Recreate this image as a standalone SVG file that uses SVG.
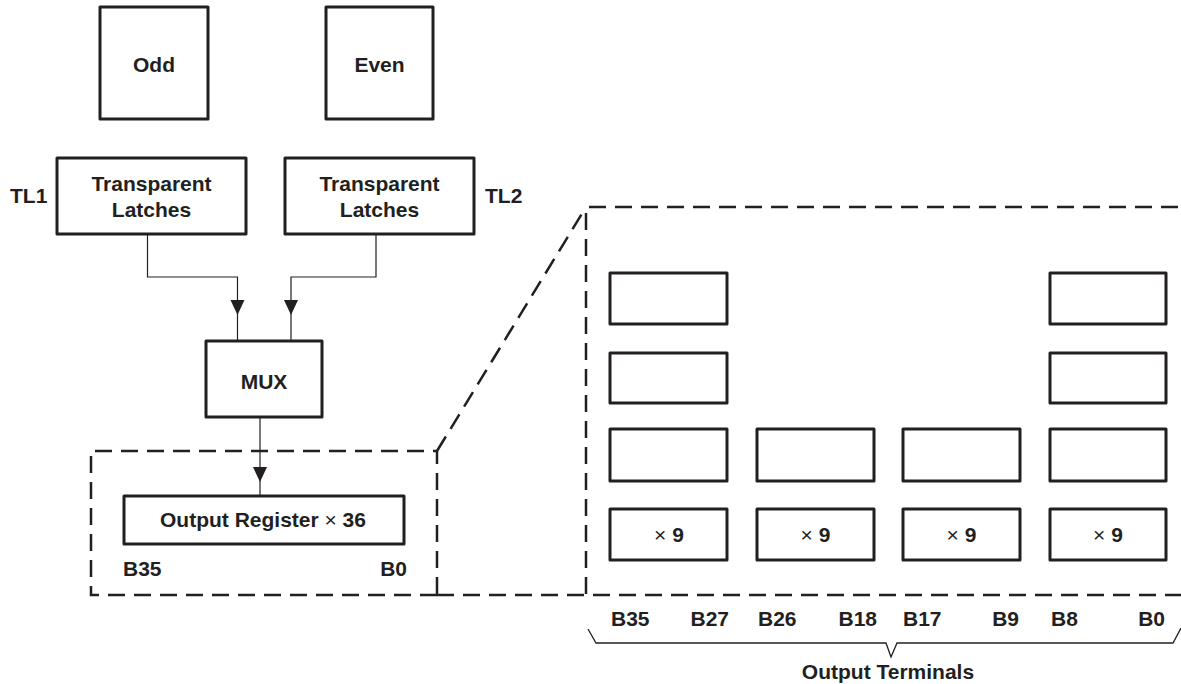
<svg xmlns="http://www.w3.org/2000/svg" width="1181" height="684" viewBox="0 0 1181 684">
  <style>
    text { font-family: "Liberation Sans", Arial, sans-serif; font-weight: bold; font-size: 21px; fill: #231f20; }
    .c { text-anchor: middle; }
    .e { text-anchor: end; }
    .x { font-weight: normal; }
    .box { fill: #fff; stroke: #231f20; stroke-width: 3; stroke-linejoin: round; }
    .wire { fill: none; stroke: #231f20; stroke-width: 1.2; }
    .dash { fill: none; stroke: #231f20; stroke-width: 2.5; stroke-dasharray: 17 9; }
    .brace { fill: none; stroke: #231f20; stroke-width: 1.3; }
    .head { fill: #231f20; }
  </style>

  <!-- dashed zoom outline: register detail on the left, expanded bit slices on the right -->
  <g id="zoom-outline">
    <path class="dash" d="M437,595 L91,595 L91,451 L437,451 L437,595"/>
    <path class="dash" d="M437,451 L586,207"/>
    <path class="dash" d="M586,594 L586,207 L1181,207"/>
    <path class="dash" d="M437,595 L1181,595"/>
  </g>

  <g id="odd">
    <rect class="box" x="100" y="7" width="108" height="112"/>
    <text class="c" x="154" y="72">Odd</text>
  </g>
  <g id="even">
    <rect class="box" x="326" y="7" width="107" height="112"/>
    <text class="c" x="379.5" y="72">Even</text>
  </g>

  <g id="tl1">
    <rect class="box" x="57" y="158" width="189" height="76"/>
    <text class="c" x="151.5" y="191">Transparent</text>
    <text class="c" x="151.5" y="217">Latches</text>
    <text x="10" y="203">TL1</text>
  </g>
  <g id="tl2">
    <rect class="box" x="285" y="158" width="189" height="76"/>
    <text class="c" x="379.5" y="191">Transparent</text>
    <text class="c" x="379.5" y="217">Latches</text>
    <text x="485" y="203">TL2</text>
  </g>

  <g id="mux">
    <rect class="box" x="206" y="341" width="116" height="76"/>
    <text class="c" x="264" y="389">MUX</text>
  </g>

  <g id="output-register">
    <rect class="box" x="124" y="496" width="280" height="48"/>
    <text class="c" x="263" y="527">Output Register <tspan class="x">×</tspan> 36</text>
    <text x="123" y="576">B35</text>
    <text class="e" x="407" y="576">B0</text>
  </g>

  <g id="connectors">
    <path class="wire" d="M147.5,234 V277 H237.5 V341"/>
    <path class="wire" d="M376,234 V277 H291 V341"/>
    <path class="wire" d="M260,417 V496"/>
    <path class="head" d="M230.5,300 H244.5 L237.5,315 Z"/>
    <path class="head" d="M284,300 H298 L291,315 Z"/>
    <path class="head" d="M253,467 H267 L260,482 Z"/>
  </g>

  <!-- 36 bits split into four 9-bit slices -->
  <g id="slice-b35-b27">
    <rect class="box" x="610" y="273" width="117" height="51"/>
    <rect class="box" x="610" y="353" width="117" height="50"/>
    <rect class="box" x="610" y="429" width="117" height="52"/>
    <rect class="box" x="610" y="509" width="117" height="51"/>
    <text class="c" x="669" y="542"><tspan class="x">×</tspan> 9</text>
  </g>
  <g id="slice-b26-b18">
    <rect class="box" x="757" y="429" width="117" height="52"/>
    <rect class="box" x="757" y="509" width="117" height="51"/>
    <text class="c" x="815.5" y="542"><tspan class="x">×</tspan> 9</text>
  </g>
  <g id="slice-b17-b9">
    <rect class="box" x="903" y="429" width="117" height="52"/>
    <rect class="box" x="903" y="509" width="117" height="51"/>
    <text class="c" x="961.5" y="542"><tspan class="x">×</tspan> 9</text>
  </g>
  <g id="slice-b8-b0">
    <rect class="box" x="1050" y="273" width="116" height="51"/>
    <rect class="box" x="1050" y="353" width="116" height="50"/>
    <rect class="box" x="1050" y="429" width="116" height="52"/>
    <rect class="box" x="1050" y="509" width="116" height="51"/>
    <text class="c" x="1108" y="542"><tspan class="x">×</tspan> 9</text>
  </g>

  <g id="output-terminals">
    <text x="611" y="626">B35</text>
    <text class="e" x="729" y="626">B27</text>
    <text x="758" y="626">B26</text>
    <text class="e" x="877" y="626">B18</text>
    <text x="903" y="626">B17</text>
    <text class="e" x="1019" y="626">B9</text>
    <text x="1051" y="626">B8</text>
    <text class="e" x="1165" y="626">B0</text>
    <path class="brace" d="M588,629 L596,643 H886 L891,657 L897,643 H1173 L1181,628"/>
    <text class="c" x="888" y="679">Output Terminals</text>
  </g>
</svg>
